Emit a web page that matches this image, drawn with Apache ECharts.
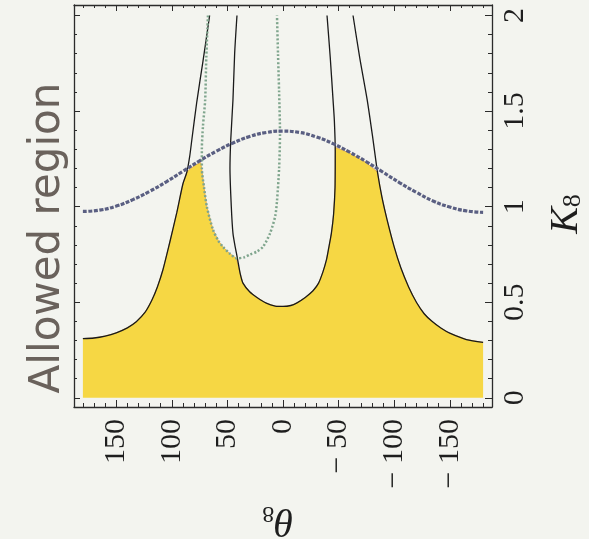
<!DOCTYPE html>
<html><head><meta charset="utf-8">
<script src="https://cdn.jsdelivr.net/npm/echarts@6/dist/echarts.min.js"></script>
<style>html,body{margin:0;padding:0;background:#f3f4ef;} #c{width:589px;height:539px;}</style>
</head><body><div id="c"></div>
<script>
// tick labels
const thetaTickLabels = [150, 100, 50, 0, -50, -100, -150];
const kTickLabels = [0, 0.5, 1, 1.5, 2];
const thetaMinorTicks = [180,170,160,140,130,120,110,90,80,70,60,40,30,20,10,-10,-20,-30,-40,-60,-70,-80,-90,-110,-120,-130,-140,-160,-170,-180];
const kMinorTicks = [0.1,0.2,0.3,0.4,0.6,0.7,0.8,0.9,1.1,1.2,1.3,1.4,1.6,1.7,1.8,1.9];

// curves [theta8, K8]
const bluePoints = [[180,0.975],[165,0.982],[150,1.003],[135,1.037],[120,1.08],[105,1.13],[90,1.185],[75,1.24],[60,1.29],[45,1.333],[30,1.367],[15,1.388],[0,1.395],[-15,1.388],[-30,1.365],[-45,1.33],[-60,1.285],[-75,1.235],[-90,1.18],[-105,1.125],[-120,1.075],[-135,1.03],[-150,0.998],[-165,0.978],[-180,0.97]];
const outerLeftPoints = [[180,0.31],[170,0.313],[160,0.323],[150,0.34],[140,0.366],[132,0.398],[124,0.448],[118,0.51],[113,0.58],[108,0.67],[102,0.81],[95.5,0.97],[90,1.12],[86.5,1.18],[84,1.26],[82,1.35],[77.5,1.55],[72,1.76],[66,2.0]];
const outerRightPoints = [[-63,2.0],[-69,1.78],[-75.7,1.56],[-80.5,1.37],[-85,1.18],[-89,1.05],[-93.7,0.93],[-100,0.79],[-106,0.68],[-113,0.58],[-120,0.5],[-127,0.44],[-134,0.4],[-142,0.365],[-150,0.338],[-165,0.305],[-180,0.29]];
const innerUPoints = [[41.4,2.0],[43.5,1.8],[45,1.56],[47,1.35],[47.7,1.2],[46.5,1.0],[45,0.86],[43,0.79],[41,0.73],[38.5,0.65],[36,0.6],[30,0.555],[23.4,0.525],[15,0.495],[7,0.48],[0,0.478],[-7,0.483],[-12.6,0.497],[-20,0.525],[-27,0.56],[-32,0.6],[-36,0.66],[-39,0.72],[-41,0.78],[-43.5,0.86],[-45.5,0.96],[-46.8,1.1],[-47,1.29],[-46.2,1.45],[-45,1.56],[-42.5,1.78],[-39.6,2.0]];
const greenPoints = [[67.5,2.0],[69,1.78],[70,1.56],[72,1.42],[73,1.3],[73,1.2],[71,1.1],[68.5,1.0],[63,0.88],[58,0.82],[54,0.79],[48,0.755],[41.4,0.73],[35,0.735],[29.7,0.75],[23.4,0.765],[18,0.79],[11.7,0.86],[7,0.95],[5.4,1.03],[3.5,1.2],[2.7,1.38],[3.5,1.6],[4.5,1.8],[5.4,2.0]];
const allowedPoints = [[180,0.31],[170,0.313],[160,0.323],[150,0.34],[140,0.366],[132,0.398],[124,0.448],[118,0.51],[113,0.58],[108,0.67],[102,0.81],[95.5,0.97],[90,1.12],[86.5,1.18],[83,1.2],[78,1.22],[74,1.23],[73.2,1.2],[71,1.1],[68.5,1.0],[63,0.88],[58,0.82],[54,0.79],[48,0.755],[42,0.73],[41,0.73],[38.5,0.65],[36,0.6],[30,0.555],[23.4,0.525],[15,0.495],[7,0.48],[0,0.478],[-7,0.483],[-12.6,0.497],[-20,0.525],[-27,0.56],[-32,0.6],[-36,0.66],[-39,0.72],[-41,0.78],[-43.5,0.86],[-45.5,0.96],[-46.8,1.1],[-47,1.31],[-60,1.28],[-75,1.23],[-85,1.18],[-89,1.05],[-93.7,0.93],[-100,0.79],[-106,0.68],[-113,0.58],[-120,0.5],[-127,0.44],[-134,0.4],[-142,0.365],[-150,0.338],[-165,0.305],[-180,0.29]];

const chart = echarts.init(document.getElementById('c'));
const serif = 'Liberation Serif';
const fmt = v => (v < 0 ? '\u2212 ' + Math.abs(v) : String(v));
const xBase = {type:'value', min:-188, max:188, inverse:true, splitLine:{show:false}, gridIndex:0};
const yBase = {type:'value', min:-0.048, max:2.055, splitLine:{show:false}, gridIndex:0};
const lineC = '#2b2b2b';
const axLine = {show:true, onZero:false, lineStyle:{color:lineC, width:1.3}};
const noLine = {show:false, onZero:false};
chart.setOption({
  backgroundColor:'#f3f4ef',
  animation:false,
  grid:{left:74, right:97, top:5, bottom:132, show:false},
  xAxis:[
    Object.assign({}, xBase, {position:'bottom', axisLine:axLine,
      axisTick:{show:true, inside:true, length:7, customValues:thetaTickLabels, lineStyle:{color:lineC}},
      axisLabel:{show:true, customValues:thetaTickLabels, rotate:90, margin:12, fontFamily:serif, fontSize:30, color:'#1e1e1e', formatter:fmt}}),
    Object.assign({}, xBase, {position:'bottom', axisLine:noLine,
      axisTick:{show:true, inside:true, length:4, customValues:thetaMinorTicks, lineStyle:{color:lineC}}, axisLabel:{show:false}}),
    Object.assign({}, xBase, {position:'top', axisLine:axLine,
      axisTick:{show:true, inside:true, length:6, customValues:thetaTickLabels, lineStyle:{color:lineC}}, axisLabel:{show:false}}),
    Object.assign({}, xBase, {position:'top', axisLine:noLine,
      axisTick:{show:true, inside:true, length:3, customValues:thetaMinorTicks, lineStyle:{color:lineC}}, axisLabel:{show:false}})
  ],
  yAxis:[
    Object.assign({}, yBase, {position:'right', axisLine:axLine,
      axisTick:{show:true, inside:true, length:7, customValues:kTickLabels, lineStyle:{color:lineC}},
      axisLabel:{show:true, customValues:kTickLabels, rotate:90, margin:8, fontFamily:serif, fontSize:30, color:'#1e1e1e'}}),
    Object.assign({}, yBase, {position:'right', axisLine:noLine,
      axisTick:{show:true, inside:true, length:4, customValues:kMinorTicks, lineStyle:{color:lineC}}, axisLabel:{show:false}}),
    Object.assign({}, yBase, {position:'left', axisLine:axLine,
      axisTick:{show:true, inside:true, length:6, customValues:kTickLabels, lineStyle:{color:lineC}}, axisLabel:{show:false}}),
    Object.assign({}, yBase, {position:'left', axisLine:noLine,
      axisTick:{show:true, inside:true, length:3, customValues:kMinorTicks, lineStyle:{color:lineC}}, axisLabel:{show:false}})
  ],
  series:[
    {type:'line', data:allowedPoints, symbol:'none', z:1, lineStyle:{width:0.8, color:'#e6a640'},
     areaStyle:{color:'#f6d744', opacity:1, origin:0}},
    {type:'line', data:outerLeftPoints, symbol:'none', smooth:0.25, z:3, lineStyle:{width:1.3, color:'#1a1a1a'}},
    {type:'line', data:outerRightPoints, symbol:'none', smooth:0.25, z:3, lineStyle:{width:1.3, color:'#1a1a1a'}},
    {type:'line', data:innerUPoints, symbol:'none', smooth:0.25, z:3, lineStyle:{width:1.3, color:'#1a1a1a'}},
    {type:'line', data:greenPoints, symbol:'none', smooth:0.25, z:4, lineStyle:{width:2.5, color:'#7fa58d', type:[2,2]}},
    {type:'line', data:bluePoints, symbol:'none', smooth:0.5, z:5, lineStyle:{width:3.2, color:'#5a5f82', type:[4,1.5]}}
  ],
  graphic:[
    {type:'text', x:566, y:214, rotation:Math.PI/2, style:{text:'{k|K}{s|8}', align:'center', verticalAlign:'middle',
      rich:{k:{fontFamily:serif, fontStyle:'italic', fontSize:40, fill:'#1e1e1e'}, s:{fontFamily:serif, fontSize:26, fill:'#1e1e1e', padding:[14,0,0,0]}}}},
    {type:'text', x:278, y:520, rotation:Math.PI, style:{text:'{k|\u03b8}{s|8}', align:'center', verticalAlign:'middle',
      rich:{k:{fontFamily:serif, fontStyle:'italic', fontSize:40, fill:'#1e1e1e'}, s:{fontFamily:serif, fontSize:24, fill:'#1e1e1e', padding:[14,0,0,0]}}}},
    {type:'text', x:48, y:238, rotation:Math.PI/2, style:{text:'Allowed region', align:'center', verticalAlign:'middle',
      fontFamily:'DejaVu Sans', fontSize:42, fill:'#6a625c'}}
  ]
});
</script></body></html>
